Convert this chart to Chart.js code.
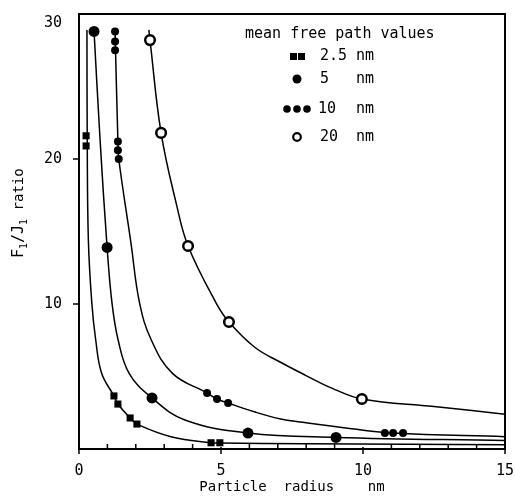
<!DOCTYPE html>
<html>
<head>
<meta charset="utf-8">
<script src="https://cdn.jsdelivr.net/npm/chart.js@4.4.1/dist/chart.umd.min.js"></script>
<style>
  html, body { margin: 0; padding: 0; background: #fff; }
</style>
</head>
<body>
<canvas id="chart" width="515" height="498"></canvas>
<script>
// x tick labels / axis range
const xTicks = [0, 5, 10, 15];
const yTicks = [10, 20, 30];

// measured points (particle radius nm, Fi/Ji ratio)
const p25X = [0.25, 0.25, 1.23, 1.37, 1.80, 2.04, 4.65, 4.96];
const p25Y = [21.6, 20.9, 3.66, 3.10, 2.14, 1.72, 0.43, 0.43];
const p5X = [0.53, 0.99, 2.57, 5.95, 9.05];
const p5Y = [28.8, 13.9, 3.52, 1.10, 0.80];
const p10X = [1.27, 1.27, 1.27, 1.37, 1.37, 1.40, 4.51, 4.86, 5.25, 10.77, 11.06, 11.41];
const p10Y = [28.8, 28.1, 27.5, 21.2, 20.6, 20.0, 3.86, 3.45, 3.17, 1.10, 1.10, 1.10];
const p20X = [2.50, 2.89, 3.84, 5.28, 9.96];
const p20Y = [28.2, 21.8, 14.0, 8.76, 3.45];

// fitted curves
const c25X = [0.28, 0.29, 0.33, 0.45, 0.59, 0.80, 1.23, 1.37, 1.80, 2.04, 3.27, 4.65, 4.96, 8.0, 15];
const c25Y = [28.9, 21.2, 14.4, 10.1, 7.5, 5.2, 3.66, 3.10, 2.14, 1.72, 0.83, 0.43, 0.42, 0.36, 0.30];
const c5X = [0.53, 0.74, 0.99, 1.16, 1.38, 1.77, 2.57, 3.73, 5.95, 9.05, 15];
const c5Y = [28.8, 21.4, 13.9, 10.1, 7.5, 5.2, 3.52, 2.0, 1.10, 0.80, 0.58];
const c10X = [1.27, 1.37, 1.40, 1.83, 2.13, 2.55, 3.30, 4.51, 4.86, 5.25, 6.20, 7.10, 7.80, 9.60, 11.06, 15];
const c10Y = [28.8, 21.2, 20.0, 14.2, 10.1, 7.5, 5.2, 3.86, 3.45, 3.17, 2.55, 2.07, 1.86, 1.40, 1.10, 0.85];
const c20X = [2.46, 2.50, 2.89, 3.44, 3.84, 4.82, 5.28, 6.20, 7.08, 7.96, 8.90, 9.96, 12.5, 15];
const c20Y = [28.9, 28.2, 21.8, 16.8, 14.0, 10.1, 8.76, 7.0, 6.0, 5.1, 4.2, 3.45, 2.93, 2.4];

const legendTitle = 'mean free path values';
const legendValues = ['2.5', '5', '10', '20'];

const FONT = 'DejaVu Sans Mono';
const pts = (xs, ys) => xs.map((x, i) => ({ x: x, y: ys[i] }));

function curve(xs, ys) {
  return {
    data: pts(xs, ys), showLine: true, pointRadius: 0, borderColor: '#000',
    borderWidth: 1.5, tension: 0.4, order: 2
  };
}

// frame, ticks, legend and y title
const extras = {
  id: 'extras',
  afterDraw(chart) {
    const { ctx, chartArea: a, scales: { x, y } } = chart;
    ctx.save();
    ctx.strokeStyle = '#000';
    ctx.fillStyle = '#000';
    ctx.lineWidth = 2;
    ctx.strokeRect(a.left, a.top, a.right - a.left, a.bottom - a.top);

    ctx.lineWidth = 1.5;
    x.ticks.forEach(t => {
      const px = x.getPixelForValue(t.value);
      ctx.beginPath();
      if (t.value % 5 === 0) { ctx.moveTo(px, a.bottom - 2); ctx.lineTo(px, a.bottom + 5); }
      else { ctx.moveTo(px, a.bottom); ctx.lineTo(px, a.bottom - 5); }
      ctx.stroke();
    });
    y.ticks.forEach(t => {
      if (t.value === 0 || t.value === 30) return;
      const py = y.getPixelForValue(t.value);
      ctx.beginPath();
      ctx.moveTo(a.left - 6, py); ctx.lineTo(a.left, py);
      ctx.stroke();
    });

    // legend
    ctx.font = '15px "' + FONT + '"';
    ctx.textBaseline = 'middle';
    ctx.textAlign = 'left';
    ctx.fillText(legendTitle, 245, 34);
    const rows = [56, 79, 109, 137];
    const tx = [320, 320, 318, 320];
    legendValues.forEach((v, i) => {
      ctx.fillText(v, tx[i], rows[i]);
      ctx.fillText('nm', 356, rows[i]);
    });
    ctx.fillRect(290, 53, 7, 7);
    ctx.fillRect(298, 53, 7, 7);
    ctx.beginPath(); ctx.arc(297, 79, 4.5, 0, Math.PI * 2); ctx.fill();
    [287, 297, 307].forEach(cx => { ctx.beginPath(); ctx.arc(cx, 109, 3.8, 0, Math.PI * 2); ctx.fill(); });
    ctx.lineWidth = 2.2;
    ctx.beginPath(); ctx.arc(297, 137, 3.8, 0, Math.PI * 2); ctx.stroke();

    // y axis title with subscripts
    ctx.translate(19, 210);
    ctx.rotate(-Math.PI / 2);
    let cx = -48;
    const part = (s, size, dy) => {
      ctx.font = size + 'px "' + FONT + '"';
      ctx.fillText(s, cx, dy);
      cx += ctx.measureText(s).width;
    };
    part('F', 15, 0);
    part('1', 10, 5);
    part('/J', 15, 0);
    part('1', 10, 5);
    part(' ratio', 14, 0);
    ctx.restore();
  }
};

new Chart(document.getElementById('chart'), {
  type: 'scatter',
  data: {
    datasets: [
      { label: '2.5 nm', data: pts(p25X, p25Y), pointStyle: 'rect', pointRadius: 5, backgroundColor: '#000', borderColor: '#000', borderWidth: 0, order: 1 },
      { label: '5 nm', data: pts(p5X, p5Y), pointStyle: 'circle', pointRadius: 5.5, backgroundColor: '#000', borderColor: '#000', borderWidth: 0, order: 1 },
      { label: '10 nm', data: pts(p10X, p10Y), pointStyle: 'circle', pointRadius: 4, backgroundColor: '#000', borderColor: '#000', borderWidth: 0, order: 1 },
      { label: '20 nm', data: pts(p20X, p20Y), pointStyle: 'circle', pointRadius: 4.8, backgroundColor: '#fff', borderColor: '#000', borderWidth: 2.5, order: 1 },
      curve(c25X, c25Y),
      curve(c5X, c5Y),
      curve(c10X, c10Y),
      curve(c20X, c20Y)
    ]
  },
  options: {
    responsive: false,
    animation: false,
    layout: { padding: { left: 0, top: 14, right: 10, bottom: 0 } },
    plugins: { legend: { display: false }, tooltip: { enabled: false } },
    scales: {
      x: {
        type: 'linear', min: 0, max: 15,
        grid: { display: false },
        border: { display: true, color: '#000', width: 2 },
        ticks: {
          stepSize: 1, autoSkip: false, maxRotation: 0, padding: 5, color: '#000',
          font: { family: FONT, size: 15 },
          callback: v => xTicks.includes(v) ? String(v) : ''
        },
        title: {
          display: true, text: 'Particle  radius    nm', color: '#000',
          font: { family: FONT, size: 14 }, padding: { top: 4, bottom: 2 }
        },
        afterFit: s => { s.height = 49; s.paddingLeft = 0; s.paddingRight = 0; }
      },
      y: {
        type: 'linear', min: 0, max: 30,
        grid: { display: false },
        border: { display: true, color: '#000', width: 2 },
        ticks: {
          stepSize: 10, padding: 9, color: '#000',
          font: { family: FONT, size: 15 },
          // top label sits a little below the frame in the original
          callback: v => v === 30 ? ['', '30'] : (yTicks.includes(v) ? String(v) : '')
        },
        afterFit: s => { s.width = 79; s.paddingTop = 0; s.paddingBottom = 0; }
      }
    }
  },
  plugins: [extras]
});
</script>
</body>
</html>
